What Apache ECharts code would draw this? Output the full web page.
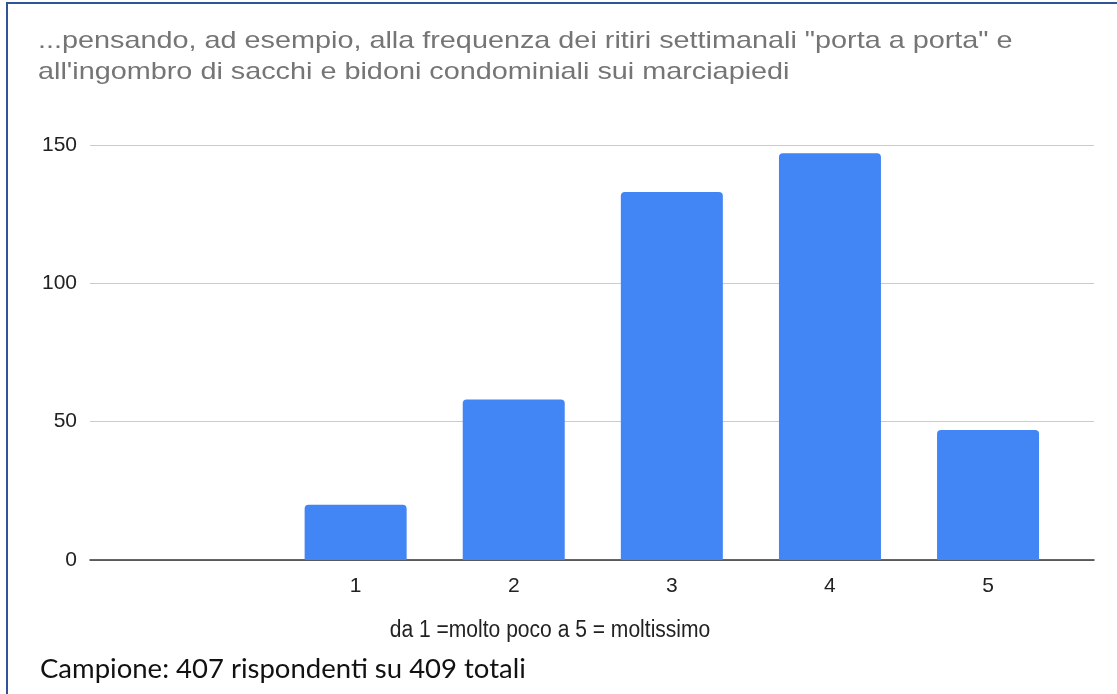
<!DOCTYPE html>
<html>
<head>
<meta charset="utf-8">
<script src="https://cdn.jsdelivr.net/npm/echarts@6/dist/echarts.min.js"></script>
<style>
  html, body { margin: 0; padding: 0; background: #fff; }
  #chart { width: 1117px; height: 694px; }
</style>
</head>
<body>
<div id="chart"></div>
<script>
// valori
const categories = ['1', '2', '3', '4', '5'];
const values = [20, 58, 133, 147, 47];
const yTicks = [0, 50, 100, 150];

const titleLines = [
  '...pensando, ad esempio, alla frequenza dei ritiri settimanali "porta a porta" e',
  'all\'ingombro di sacchi e bidoni condominiali sui marciapiedi',
];
const xName = 'da 1 =molto poco a 5 = moltissimo';
const note = 'Campione: 407 rispondenti su 409 totali';

const chart = echarts.init(document.getElementById('chart'));

// l'immagine originale e' stirata in orizzontale, quindi il titolo e' scalato
const titleGraphics = titleLines.map((t, i) => ({
  type: 'text',
  x: 38,
  y: 41 + i * 31.5,
  scaleX: 1.2,
  style: {
    text: t,
    font: '24px "Liberation Sans"',
    fill: '#757575',
    align: 'left',
    verticalAlign: 'middle',
  },
}));

const option = {
  animation: false,
  grid: {
    left: 90,
    right: 23,
    top: 145,
    bottom: 134,
  },
  xAxis: {
    type: 'value',
    min: -0.68,
    max: 5.67,
    splitLine: { show: false },
    axisTick: { show: false },
    axisLine: {
      show: true,
      lineStyle: { color: '#333', width: 1.5 },
    },
    axisLabel: {
      customValues: categories.map(Number),
      fontFamily: 'Liberation Sans',
      fontSize: 21,
      color: '#222',
      margin: 16,
    },
  },
  yAxis: {
    type: 'value',
    min: yTicks[0],
    max: yTicks[yTicks.length - 1],
    interval: 50,
    axisLine: { show: false },
    axisTick: { show: false },
    axisLabel: {
      fontFamily: 'Liberation Sans',
      fontSize: 21,
      color: '#222',
      margin: 13,
    },
    splitLine: {
      lineStyle: { color: '#cccccc', width: 1 },
    },
  },
  series: [
    {
      type: 'bar',
      barWidth: 102,
      data: categories.map((c, i) => [Number(c), values[i]]),
      itemStyle: {
        color: '#4285f4',
        borderRadius: [4, 4, 0, 0],
      },
    },
  ],
  graphic: [
    {
      // bordo sinistro
      type: 'line',
      shape: { x1: 7, y1: 3, x2: 7, y2: 694 },
      style: { stroke: '#2f5597', lineWidth: 2 },
    },
    {
      // bordo superiore
      type: 'line',
      shape: { x1: 6, y1: 3, x2: 1117, y2: 3 },
      style: { stroke: '#2f5597', lineWidth: 2 },
    },
    ...titleGraphics,
    {
      type: 'text',
      x: 550,
      y: 631,
      scaleX: 0.915,
      style: {
        text: xName,
        font: '23px "Liberation Sans"',
        fill: '#222',
        align: 'center',
        verticalAlign: 'middle',
      },
    },
    {
      type: 'text',
      x: 40,
      y: 669,
      style: {
        text: note,
        font: '27.5px Lato',
        fill: '#111',
        align: 'left',
        verticalAlign: 'middle',
      },
    },
  ],
};

chart.setOption(option);
</script>
</body>
</html>
